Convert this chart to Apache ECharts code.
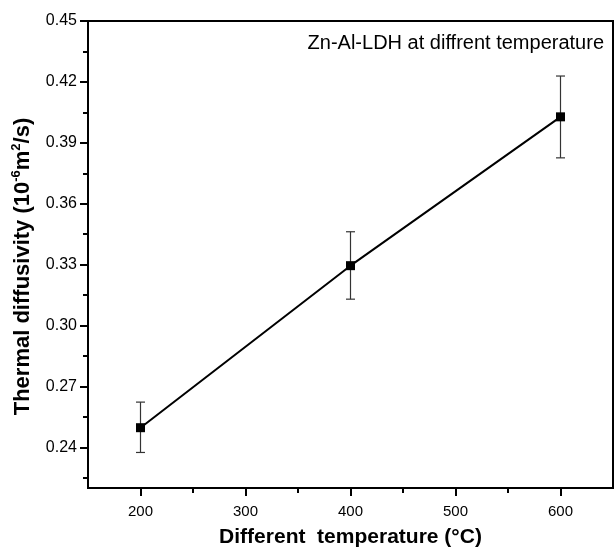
<!DOCTYPE html>
<html>
<head>
<meta charset="utf-8">
<script src="https://cdn.jsdelivr.net/npm/echarts@6/dist/echarts.min.js"></script>
<style>html,body{margin:0;padding:0;background:#fff;}#c{width:614px;height:547px;}</style>
</head>
<body>
<div id="c"></div>
<script>
const temps = [200, 400, 600];
const diffusivity = [0.2497, 0.3295, 0.4028];
const errLow = [0.2375, 0.3130, 0.3826];
const errHigh = [0.2623, 0.3462, 0.4229];
const yMajorTicks = [0.24, 0.27, 0.30, 0.33, 0.36, 0.39, 0.42, 0.45];
const yMinorTicks = [0.225, 0.255, 0.285, 0.315, 0.345, 0.375, 0.405, 0.435];
const xMajorTicks = [200, 300, 400, 500, 600];
const xMinorTicks = [250, 350, 450, 550];
const chartTitle = 'Zn-Al-LDH at diffrent temperature';

const FONT = '"Liberation Sans", Arial, sans-serif';
const chart = echarts.init(document.getElementById('c'));

chart.setOption({
  animation: false,
  backgroundColor: '#fff',
  textStyle: { fontFamily: FONT },
  title: {
    text: chartTitle,
    right: 5, top: 28,
    textStyle: { fontFamily: FONT, fontSize: 20, fontWeight: 'normal', color: '#000' }
  },
  grid: {
    left: 88, right: 1, top: 21, bottom: 59,
    outerBoundsMode: 'none', containLabel: false,
    show: true, borderColor: '#000', borderWidth: 2, backgroundColor: 'transparent'
  },
  xAxis: [{
    type: 'value', min: 150, max: 650, position: 'bottom',
    axisLine: { show: true, lineStyle: { color: '#000', width: 2 } },
    axisTick: { show: true, customValues: xMajorTicks, length: 8, lineStyle: { color: '#000', width: 2 } },
    axisLabel: { customValues: xMajorTicks, fontSize: 15, color: '#000', margin: 16, fontFamily: FONT },
    splitLine: { show: false },
    name: 'Different  temperature (°C)',
    nameLocation: 'middle', nameGap: 39,
    nameTextStyle: { fontFamily: FONT, fontSize: 21, fontWeight: 'bold', color: '#000' }
  }, {
    type: 'value', min: 150, max: 650, position: 'bottom',
    axisLine: { show: false },
    axisTick: { show: true, customValues: xMinorTicks, length: 5, lineStyle: { color: '#000', width: 2 } },
    axisLabel: { show: false },
    splitLine: { show: false }
  }],
  yAxis: [{
    type: 'value', min: 0.22, max: 0.45, position: 'left',
    axisLine: { show: true, lineStyle: { color: '#000', width: 2 } },
    axisTick: { show: true, customValues: yMajorTicks, length: 8, lineStyle: { color: '#000', width: 2 } },
    axisLabel: { customValues: yMajorTicks, fontSize: 16, color: '#000', margin: 11, fontFamily: FONT,
      formatter: v => v.toFixed(2) },
    splitLine: { show: false },
    name: '{n|Thermal diffusivity (10}{s|-6}{n|m}{s|2}{n|/s)}',
    nameLocation: 'middle', nameGap: 53, nameRotate: 90,
    nameTextStyle: {
      padding: [0, 24, 0, 0],
      rich: {
        n: { fontFamily: FONT, fontSize: 22, fontWeight: 'bold', color: '#000', lineHeight: 25 },
        s: { fontFamily: FONT, fontSize: 13, fontWeight: 'bold', color: '#000', verticalAlign: 'top', lineHeight: 25 }
      }
    }
  }, {
    type: 'value', min: 0.22, max: 0.45, position: 'left',
    axisLine: { show: false },
    axisTick: { show: true, customValues: yMinorTicks, length: 5, lineStyle: { color: '#000', width: 2 } },
    axisLabel: { show: false },
    splitLine: { show: false }
  }],
  series: [{
    type: 'custom',
    xAxisIndex: 0, yAxisIndex: 0,
    data: temps.map((t, i) => [t, errLow[i], errHigh[i]]),
    encode: { x: 0, y: [1, 2] },
    z: 2,
    renderItem: function (params, api) {
      const x = api.value(0);
      const lo = api.coord([x, api.value(1)]);
      const hi = api.coord([x, api.value(2)]);
      const w = 4.5;
      const style = { stroke: '#333', lineWidth: 1.2 };
      return {
        type: 'group',
        children: [
          { type: 'line', shape: { x1: lo[0], y1: lo[1], x2: hi[0], y2: hi[1] }, style },
          { type: 'line', shape: { x1: lo[0] - w, y1: lo[1], x2: lo[0] + w, y2: lo[1] }, style },
          { type: 'line', shape: { x1: hi[0] - w, y1: hi[1], x2: hi[0] + w, y2: hi[1] }, style }
        ]
      };
    }
  }, {
    type: 'line',
    xAxisIndex: 0, yAxisIndex: 0,
    data: temps.map((t, i) => [t, diffusivity[i]]),
    symbol: 'rect', symbolSize: 9,
    itemStyle: { color: '#000' },
    lineStyle: { color: '#000', width: 2 },
    z: 3
  }]
});
</script>
</body>
</html>
